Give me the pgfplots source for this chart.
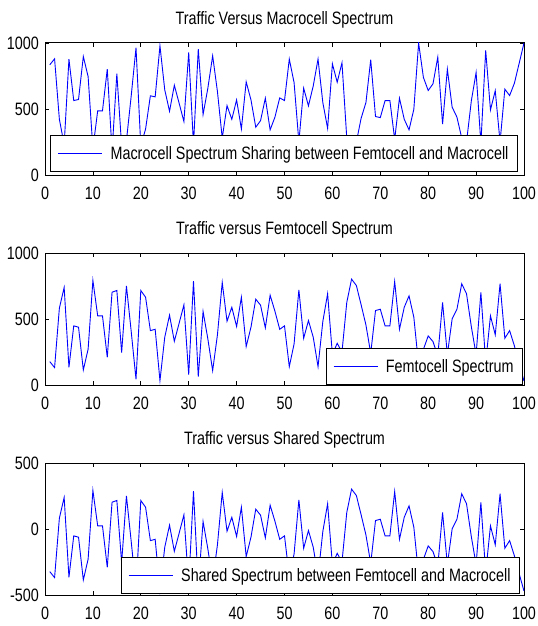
\documentclass[border=0pt]{standalone}
\usepackage{fontspec}
\setmainfont{Liberation Sans}[FakeStretch=0.8]
\usepackage{pgfplots}
\pgfplotsset{compat=1.18}
\usepackage{pgfplotstable}

\pgfplotstableread{
x y
1 835
2 880
3 422
4 230
5 878
6 564
7 572
8 898
9 746
10 200
11 486
12 486
13 802
14 180
15 767
16 220
17 260
18 600
19 964
20 220
21 349
22 600
23 592
24 979
25 645
26 483
27 680
28 544
29 405
30 928
31 230
32 954
33 458
34 658
35 903
36 632
37 280
38 526
39 422
40 569
41 349
42 706
43 569
44 362
45 412
46 582
47 342
48 438
49 584
50 564
51 878
52 700
53 250
54 658
55 524
56 675
57 878
58 549
59 354
60 842
61 703
62 850
63 280
64 150
65 250
66 430
67 549
68 873
69 443
70 435
71 564
72 564
73 270
74 582
75 422
76 342
77 498
78 1000
79 739
80 640
81 691
82 893
83 385
84 802
85 514
86 438
87 280
88 250
89 560
90 777
91 240
92 944
93 493
94 638
95 250
96 650
97 602
98 696
99 848
100 1000
}\macrodata

\pgfplotstableread{
x y
1 177
2 132
3 582
4 739
5 134
6 448
7 438
8 114
9 271
10 792
11 524
12 524
13 210
14 703
15 716
16 245
17 751
18 405
19 43
20 716
21 665
22 412
23 422
24 33
25 362
26 529
27 331
28 468
29 607
30 78
31 787
32 63
33 557
34 349
35 109
36 380
37 777
38 483
39 589
40 443
41 665
42 291
43 438
44 650
45 605
46 433
47 680
48 559
49 422
50 448
51 139
52 311
53 721
54 354
55 488
56 362
57 139
58 481
59 691
60 230
61 316
62 250
63 625
64 802
65 754
66 607
67 455
68 240
69 564
70 574
71 448
72 448
73 784
74 422
75 589
76 675
77 514
78 150
79 270
80 372
81 329
82 220
83 625
84 230
85 501
86 574
87 767
88 691
89 443
90 230
91 701
92 170
93 524
94 380
95 767
96 354
97 412
98 296
99 160
100 30
}\femtodata

\pgfplotstableread{
x y
1 -323
2 -368
3 82
4 239
5 -366
6 -52
7 -62
8 -386
9 -229
10 292
11 24
12 24
13 -290
14 203
15 216
16 -255
17 251
18 -95
19 -457
20 216
21 165
22 -88
23 -78
24 -467
25 -138
26 29
27 -169
28 -32
29 107
30 -422
31 287
32 -437
33 57
34 -151
35 -391
36 -120
37 277
38 -17
39 89
40 -57
41 165
42 -209
43 -62
44 150
45 105
46 -67
47 180
48 59
49 -78
50 -52
51 -361
52 -189
53 221
54 -146
55 -12
56 -138
57 -361
58 -19
59 191
60 -270
61 -184
62 -250
63 125
64 302
65 254
66 107
67 -45
68 -260
69 64
70 74
71 -52
72 -52
73 284
74 -78
75 89
76 175
77 14
78 -350
79 -230
80 -128
81 -171
82 -280
83 125
84 -270
85 1
86 74
87 267
88 191
89 -57
90 -270
91 201
92 -330
93 24
94 -120
95 267
96 -146
97 -88
98 -204
99 -340
100 -470
}\shareddata

\pgfplotsset{
  mystyle/.style={
    scale only axis, width=479bp, height=132bp,
    xmin=0, xmax=100, xtick={0,10,...,100},
    tick pos=both, tick align=inside, major tick length=4bp,
    axis line style={line width=1bp},
    every tick/.style={black, line width=0.8bp},
    /pgf/number format/assume math mode=true,
    /pgf/number format/1000 sep={},
    scaled y ticks=false,
    ticklabel style={font=\fontsize{18}{21}\selectfont},
    xticklabel style={anchor=base, yshift=-24bp},
    yticklabel style={anchor=east, inner xsep=0pt, xshift=-6bp},
    title style={font=\fontsize{18}{21}\selectfont, anchor=base, yshift=13bp},
    legend style={font=\fontsize{18}{21}\selectfont, draw=black, fill=white, line width=1bp,
      anchor=south east, at={(1,0)}, inner xsep=7bp, inner ysep=9bp, column sep=6bp},
    legend cell align=left,
    legend image code/.code={\draw[draw=blue, color=blue, line width=0.9bp] (0bp,0bp) -- (44bp,0bp);},
  },
}

\begin{document}
\begin{tikzpicture}
\path[use as bounding box] (-45bp,43bp) rectangle (493bp,-583bp);
\begin{axis}[mystyle, at={(0,0)}, anchor=north west,
  ymin=0, ymax=1000, ytick={0,500,1000},
  title={Traffic Versus Macrocell Spectrum},
  legend style={xshift=-6bp, yshift=3bp}]
\addplot[blue, line width=0.9bp, mark=none] table[x=x,y=y] {\macrodata};
\addlegendentry{Macrocell Spectrum Sharing between Femtocell and Macrocell}
\end{axis}
\begin{axis}[mystyle, at={(0,-210bp)}, anchor=north west,
  ymin=0, ymax=1000, ytick={0,500,1000},
  title={Traffic versus Femtocell Spectrum},
  legend style={xshift=-1bp}]
\addplot[blue, line width=0.9bp, mark=none] table[x=x,y=y] {\femtodata};
\addlegendentry{Femtocell Spectrum}
\end{axis}
\begin{axis}[mystyle, at={(0,-420bp)}, anchor=north west,
  ymin=-500, ymax=500, ytick={-500,0,500},
  title={Traffic versus Shared Spectrum},
  legend style={xshift=-4bp, yshift=1bp}]
\addplot[blue, line width=0.9bp, mark=none] table[x=x,y=y] {\shareddata};
\addlegendentry{Shared Spectrum between Femtocell and Macrocell}
\end{axis}
\end{tikzpicture}
\end{document}
